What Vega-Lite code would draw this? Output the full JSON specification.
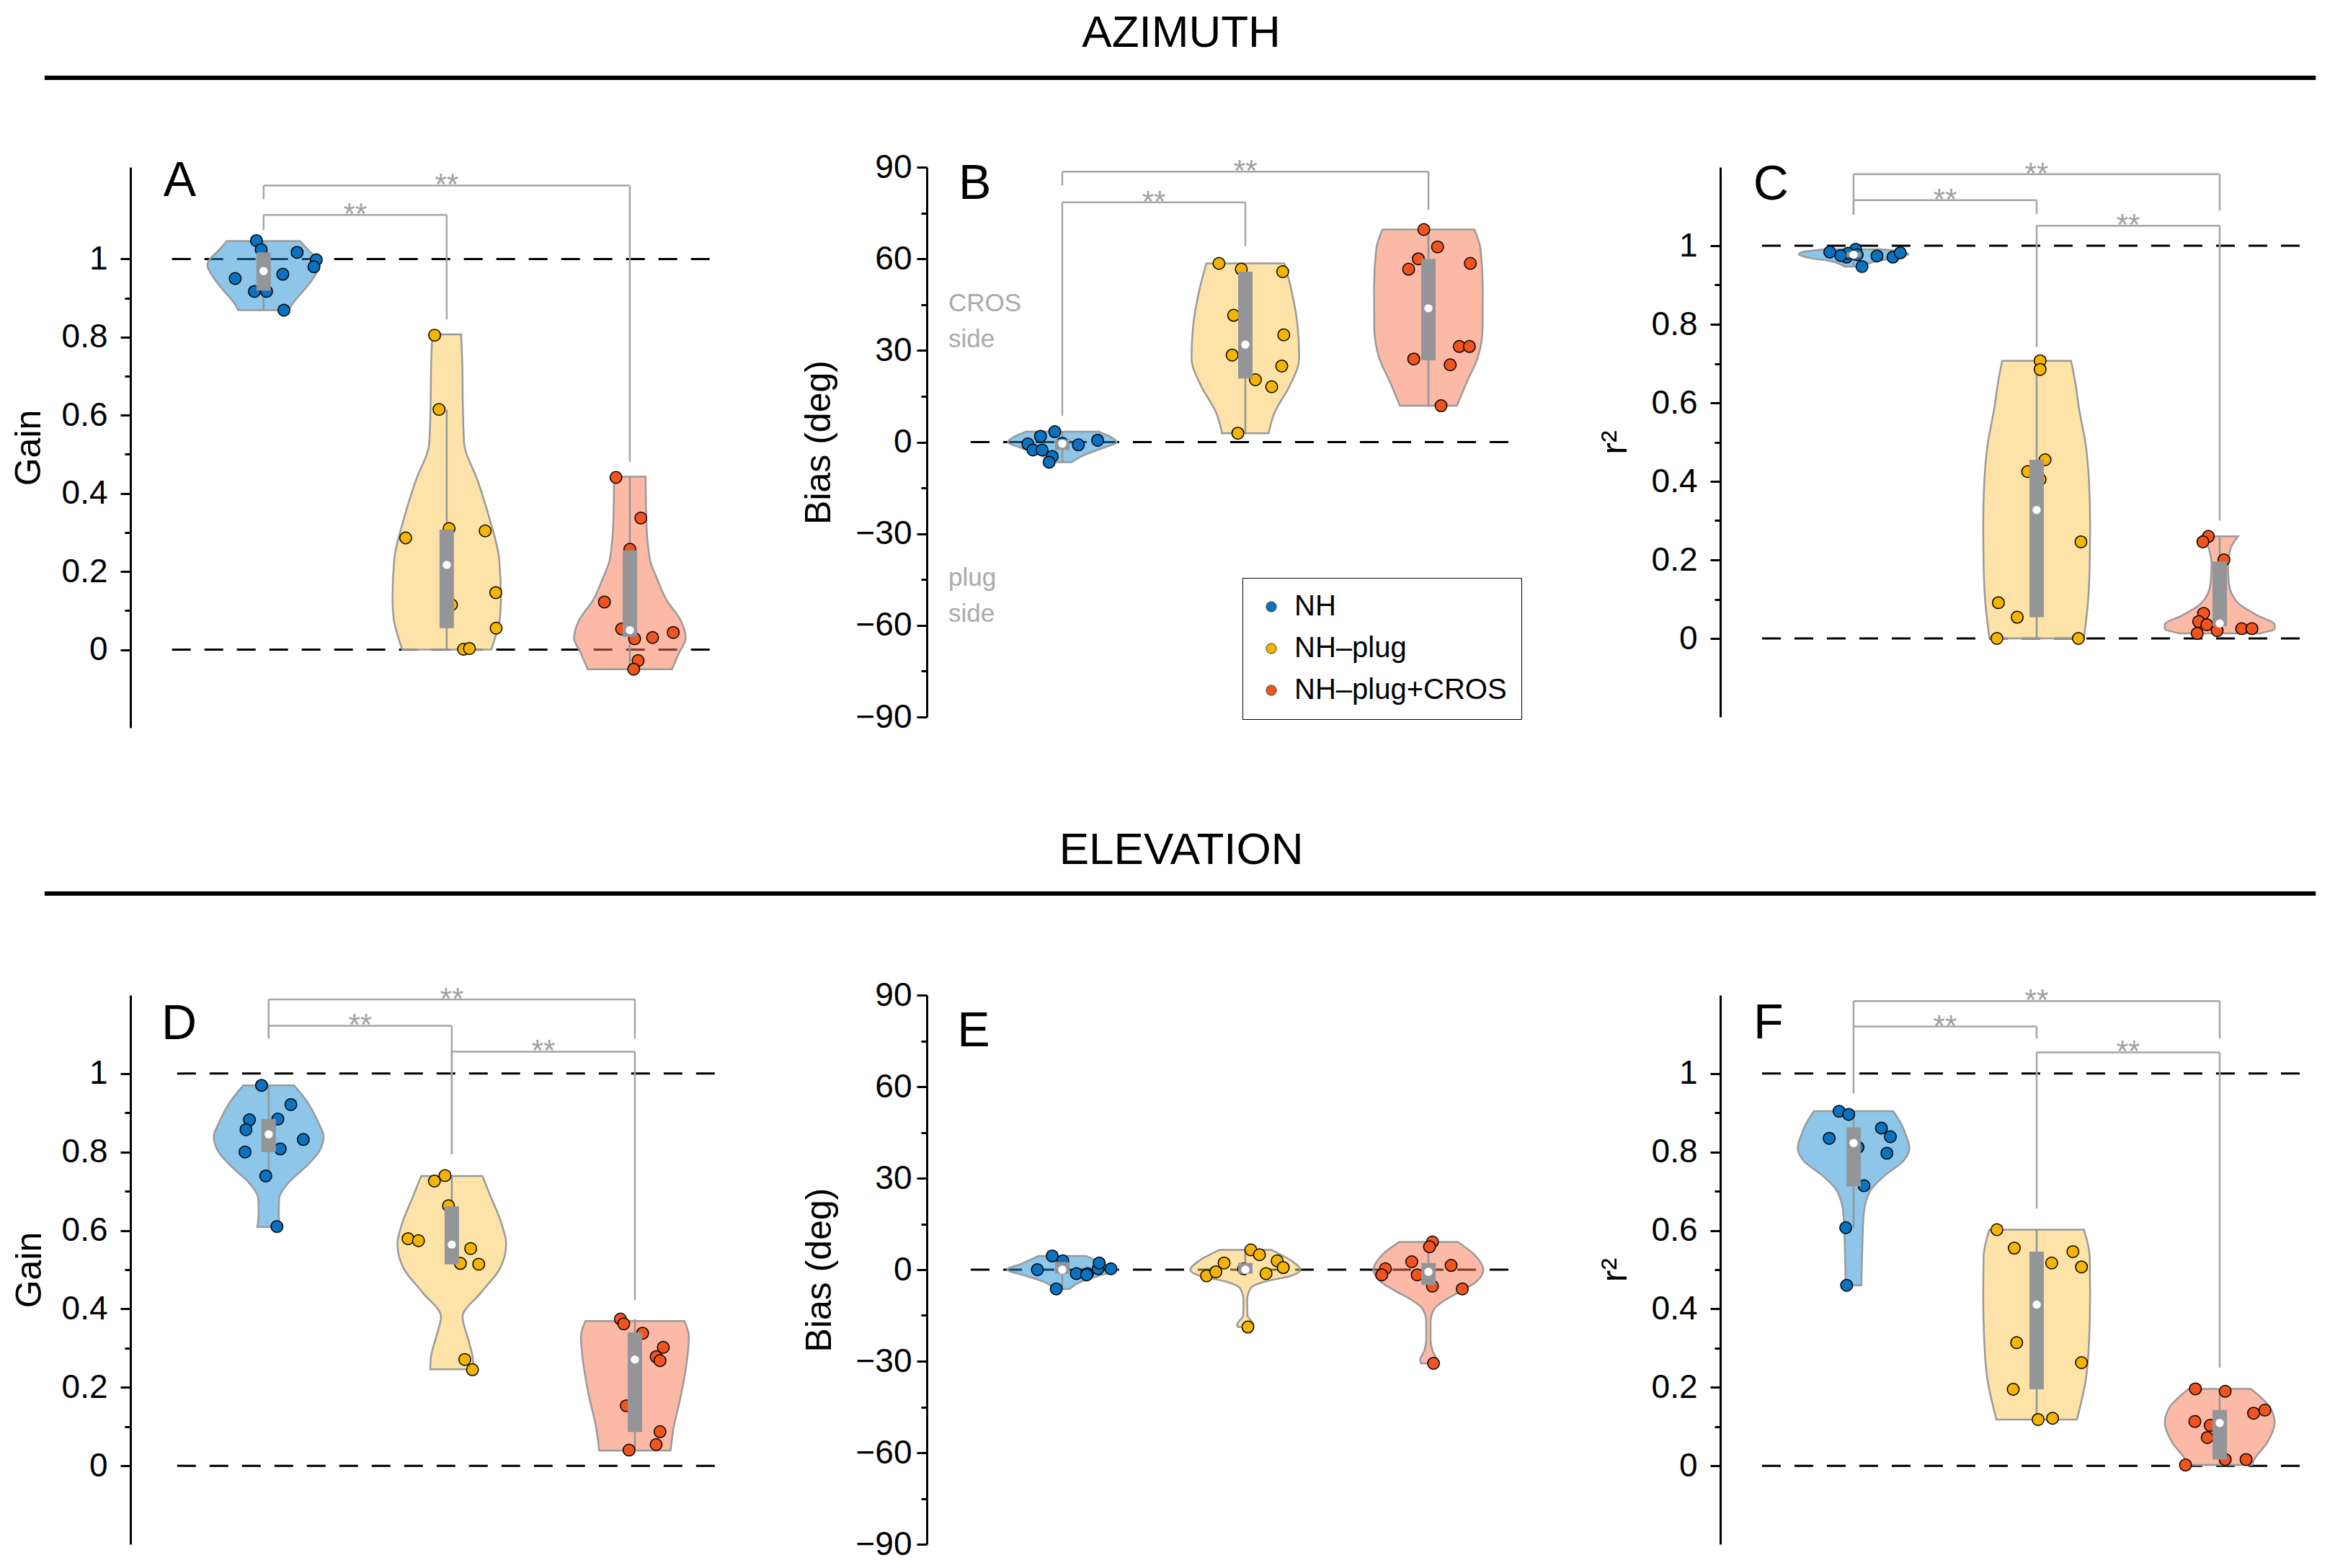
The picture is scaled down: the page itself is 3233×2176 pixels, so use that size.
{
"$schema": "https://vega.github.io/schema/vega-lite/v6.json",
"background": "white",
"padding": {"left": 15, "top": 14, "right": 20, "bottom": 8},
"datasets": {"d": [
{"p":"A","k":"ref","x":0.5,"x2":3.5,"y":0},{"p":"A","k":"ref","x":0.5,"x2":3.5,"y":1},
{"p":"A","k":"vi","g":"NH","y":0.869,"x":0.862,"x2":1.138},{"p":"A","k":"vi","g":"NH","y":0.89,"x":0.835,"x2":1.165},{"p":"A","k":"vi","g":"NH","y":0.92,"x":0.78,"x2":1.22},{"p":"A","k":"vi","g":"NH","y":0.95,"x":0.73,"x2":1.27},{"p":"A","k":"vi","g":"NH","y":0.985,"x":0.693,"x2":1.307},{"p":"A","k":"vi","g":"NH","y":0.995,"x":0.7,"x2":1.3},{"p":"A","k":"vi","g":"NH","y":1.02,"x":0.75,"x2":1.25},{"p":"A","k":"vi","g":"NH","y":1.046,"x":0.8,"x2":1.2},
{"p":"A","k":"vi","g":"NH–plug","y":0,"x":1.757,"x2":2.243},{"p":"A","k":"vi","g":"NH–plug","y":0.04,"x":1.73,"x2":2.27},{"p":"A","k":"vi","g":"NH–plug","y":0.08,"x":1.71,"x2":2.29},{"p":"A","k":"vi","g":"NH–plug","y":0.13,"x":1.704,"x2":2.296},{"p":"A","k":"vi","g":"NH–plug","y":0.23,"x":1.713,"x2":2.287},{"p":"A","k":"vi","g":"NH–plug","y":0.33,"x":1.763,"x2":2.237},{"p":"A","k":"vi","g":"NH–plug","y":0.43,"x":1.829,"x2":2.171},{"p":"A","k":"vi","g":"NH–plug","y":0.53,"x":1.905,"x2":2.095},{"p":"A","k":"vi","g":"NH–plug","y":0.63,"x":1.912,"x2":2.088},{"p":"A","k":"vi","g":"NH–plug","y":0.73,"x":1.915,"x2":2.085},{"p":"A","k":"vi","g":"NH–plug","y":0.807,"x":1.921,"x2":2.079},
{"p":"A","k":"vi","g":"NH–plug+CROS","y":-0.05,"x":2.77,"x2":3.23},{"p":"A","k":"vi","g":"NH–plug+CROS","y":-0.007,"x":2.73,"x2":3.27},{"p":"A","k":"vi","g":"NH–plug+CROS","y":0.03,"x":2.695,"x2":3.305},{"p":"A","k":"vi","g":"NH–plug+CROS","y":0.07,"x":2.717,"x2":3.283},{"p":"A","k":"vi","g":"NH–plug+CROS","y":0.13,"x":2.803,"x2":3.197},{"p":"A","k":"vi","g":"NH–plug+CROS","y":0.18,"x":2.85,"x2":3.15},{"p":"A","k":"vi","g":"NH–plug+CROS","y":0.23,"x":2.89,"x2":3.11},{"p":"A","k":"vi","g":"NH–plug+CROS","y":0.33,"x":2.91,"x2":3.09},{"p":"A","k":"vi","g":"NH–plug+CROS","y":0.443,"x":2.914,"x2":3.086},
{"p":"A","k":"pt","g":"NH","x":0.961,"y":1.047},{"p":"A","k":"pt","g":"NH","x":0.987,"y":1.024},{"p":"A","k":"pt","g":"NH","x":1.183,"y":1.017},{"p":"A","k":"pt","g":"NH","x":1.288,"y":0.998},{"p":"A","k":"pt","g":"NH","x":1.275,"y":0.98},{"p":"A","k":"pt","g":"NH","x":0.845,"y":0.95},{"p":"A","k":"pt","g":"NH","x":1.105,"y":0.961},{"p":"A","k":"pt","g":"NH","x":0.95,"y":0.917},{"p":"A","k":"pt","g":"NH","x":1.016,"y":0.917},{"p":"A","k":"pt","g":"NH","x":1.111,"y":0.869},
{"p":"A","k":"pt","g":"NH–plug","x":1.934,"y":0.805},{"p":"A","k":"pt","g":"NH–plug","x":1.958,"y":0.615},{"p":"A","k":"pt","g":"NH–plug","x":1.776,"y":0.286},{"p":"A","k":"pt","g":"NH–plug","x":2.013,"y":0.31},{"p":"A","k":"pt","g":"NH–plug","x":2.21,"y":0.304},{"p":"A","k":"pt","g":"NH–plug","x":2.268,"y":0.146},{"p":"A","k":"pt","g":"NH–plug","x":2.026,"y":0.115},{"p":"A","k":"pt","g":"NH–plug","x":2.27,"y":0.055},{"p":"A","k":"pt","g":"NH–plug","x":2.092,"y":0.001},{"p":"A","k":"pt","g":"NH–plug","x":2.124,"y":0.003},
{"p":"A","k":"pt","g":"NH–plug+CROS","x":2.924,"y":0.441},{"p":"A","k":"pt","g":"NH–plug+CROS","x":3.06,"y":0.337},{"p":"A","k":"pt","g":"NH–plug+CROS","x":3.0,"y":0.257},{"p":"A","k":"pt","g":"NH–plug+CROS","x":2.861,"y":0.122},{"p":"A","k":"pt","g":"NH–plug+CROS","x":2.955,"y":0.053},{"p":"A","k":"pt","g":"NH–plug+CROS","x":3.026,"y":0.028},{"p":"A","k":"pt","g":"NH–plug+CROS","x":3.124,"y":0.031},{"p":"A","k":"pt","g":"NH–plug+CROS","x":3.237,"y":0.044},{"p":"A","k":"pt","g":"NH–plug+CROS","x":3.045,"y":-0.028},{"p":"A","k":"pt","g":"NH–plug+CROS","x":3.021,"y":-0.05},
{"p":"A","k":"wh","x":1,"y":0.869,"y2":1.046},{"p":"A","k":"wh","x":2,"y":0,"y2":0.615},{"p":"A","k":"wh","x":3,"y":-0.05,"y2":0.441},
{"p":"A","k":"bx","x":1,"y":0.919,"y2":1.017},{"p":"A","k":"bx","x":2,"y":0.055,"y2":0.307},{"p":"A","k":"bx","x":3,"y":0.033,"y2":0.254},
{"p":"A","k":"md","x":1,"y":0.969},{"p":"A","k":"md","x":2,"y":0.217},{"p":"A","k":"md","x":3,"y":0.05},
{"p":"A","k":"bh","x":1,"x2":3,"y":1.188},{"p":"A","k":"bh","x":1,"x2":2,"y":1.113},
{"p":"A","k":"bv","x":1,"y":1.188,"y2":1.153},{"p":"A","k":"bv","x":3,"y":1.188,"y2":0.481},{"p":"A","k":"bv","x":1,"y":1.113,"y2":1.074},{"p":"A","k":"bv","x":2,"y":1.113,"y2":0.845},
{"p":"A","k":"st","x":2,"y":1.188,"t":"**"},{"p":"A","k":"st","x":1.5,"y":1.113,"t":"**"},
{"p":"A","k":"lt","x":0.542,"y":1.198,"t":"A"},

{"p":"B","k":"hd","x":1.65,"y":133.9,"t":"AZIMUTH"},{"p":"B","k":"hr","x":-4.559,"x2":7.847,"y":119.25},
{"p":"B","k":"ref","x":0.5,"x2":3.5,"y":0},
{"p":"B","k":"vi","g":"NH","y":-6.6,"x":0.95,"x2":1.05},{"p":"B","k":"vi","g":"NH","y":-4,"x":0.87,"x2":1.13},{"p":"B","k":"vi","g":"NH","y":-2,"x":0.78,"x2":1.22},{"p":"B","k":"vi","g":"NH","y":0,"x":0.703,"x2":1.297},{"p":"B","k":"vi","g":"NH","y":1.5,"x":0.73,"x2":1.27},{"p":"B","k":"vi","g":"NH","y":3.4,"x":0.8,"x2":1.2},
{"p":"B","k":"vi","g":"NH–plug","y":2.9,"x":1.873,"x2":2.127},{"p":"B","k":"vi","g":"NH–plug","y":9.6,"x":1.841,"x2":2.159},{"p":"B","k":"vi","g":"NH–plug","y":18.4,"x":1.758,"x2":2.242},{"p":"B","k":"vi","g":"NH–plug","y":27.4,"x":1.706,"x2":2.294},{"p":"B","k":"vi","g":"NH–plug","y":37.6,"x":1.714,"x2":2.286},{"p":"B","k":"vi","g":"NH–plug","y":50.4,"x":1.751,"x2":2.249},{"p":"B","k":"vi","g":"NH–plug","y":58.5,"x":1.787,"x2":2.213},
{"p":"B","k":"vi","g":"NH–plug+CROS","y":11.9,"x":2.844,"x2":3.156},{"p":"B","k":"vi","g":"NH–plug+CROS","y":19.7,"x":2.79,"x2":3.21},{"p":"B","k":"vi","g":"NH–plug+CROS","y":27.4,"x":2.732,"x2":3.268},{"p":"B","k":"vi","g":"NH–plug+CROS","y":37.6,"x":2.704,"x2":3.296},{"p":"B","k":"vi","g":"NH–plug+CROS","y":50.4,"x":2.703,"x2":3.297},{"p":"B","k":"vi","g":"NH–plug+CROS","y":63.2,"x":2.715,"x2":3.285},{"p":"B","k":"vi","g":"NH–plug+CROS","y":69.6,"x":2.749,"x2":3.251},
{"p":"B","k":"pt","g":"NH","x":0.812,"y":-0.6},{"p":"B","k":"pt","g":"NH","x":0.881,"y":1.9},{"p":"B","k":"pt","g":"NH","x":0.959,"y":3.4},{"p":"B","k":"pt","g":"NH","x":0.84,"y":-2.6},{"p":"B","k":"pt","g":"NH","x":0.89,"y":-2.6},{"p":"B","k":"pt","g":"NH","x":0.945,"y":-4.7},{"p":"B","k":"pt","g":"NH","x":0.928,"y":-6.6},{"p":"B","k":"pt","g":"NH","x":1.088,"y":-0.9},{"p":"B","k":"pt","g":"NH","x":1.193,"y":0.6},{"p":"B","k":"pt","g":"NH","x":1.0,"y":-0.4},
{"p":"B","k":"pt","g":"NH–plug","x":1.856,"y":58.5},{"p":"B","k":"pt","g":"NH–plug","x":1.978,"y":56.6},{"p":"B","k":"pt","g":"NH–plug","x":2.204,"y":55.8},{"p":"B","k":"pt","g":"NH–plug","x":1.936,"y":41.5},{"p":"B","k":"pt","g":"NH–plug","x":2.21,"y":35.1},{"p":"B","k":"pt","g":"NH–plug","x":1.928,"y":28.5},{"p":"B","k":"pt","g":"NH–plug","x":2.199,"y":24.9},{"p":"B","k":"pt","g":"NH–plug","x":2.055,"y":20.4},{"p":"B","k":"pt","g":"NH–plug","x":2.144,"y":18.1},{"p":"B","k":"pt","g":"NH–plug","x":1.959,"y":2.9},
{"p":"B","k":"pt","g":"NH–plug+CROS","x":2.975,"y":69.6},{"p":"B","k":"pt","g":"NH–plug+CROS","x":3.05,"y":63.9},{"p":"B","k":"pt","g":"NH–plug+CROS","x":2.945,"y":60},{"p":"B","k":"pt","g":"NH–plug+CROS","x":2.892,"y":56.6},{"p":"B","k":"pt","g":"NH–plug+CROS","x":3.229,"y":58.5},{"p":"B","k":"pt","g":"NH–plug+CROS","x":2.92,"y":27.2},{"p":"B","k":"pt","g":"NH–plug+CROS","x":3.169,"y":31.3},{"p":"B","k":"pt","g":"NH–plug+CROS","x":3.224,"y":31.3},{"p":"B","k":"pt","g":"NH–plug+CROS","x":3.119,"y":25.3},{"p":"B","k":"pt","g":"NH–plug+CROS","x":3.069,"y":11.9},
{"p":"B","k":"wh","x":1,"y":-6.6,"y2":3.4},{"p":"B","k":"wh","x":2,"y":2.9,"y2":58.5},{"p":"B","k":"wh","x":3,"y":11.9,"y2":69.6},
{"p":"B","k":"bx","x":1,"y":-2.6,"y2":0.9},{"p":"B","k":"bx","x":2,"y":20.8,"y2":55.8},{"p":"B","k":"bx","x":3,"y":26.8,"y2":60},
{"p":"B","k":"md","x":1,"y":-0.5},{"p":"B","k":"md","x":2,"y":31.9},{"p":"B","k":"md","x":3,"y":43.8},
{"p":"B","k":"bh","x":1,"x2":3,"y":88.5},{"p":"B","k":"bh","x":1,"x2":2,"y":78.5},
{"p":"B","k":"bv","x":1,"y":88.5,"y2":84},{"p":"B","k":"bv","x":3,"y":88.5,"y2":76},{"p":"B","k":"bv","x":1,"y":78.5,"y2":8.6},{"p":"B","k":"bv","x":2,"y":78.5,"y2":64.2},
{"p":"B","k":"st","x":2,"y":88.5,"t":"**"},{"p":"B","k":"st","x":1.5,"y":78.5,"t":"**"},
{"p":"B","k":"lt","x":0.522,"y":84.3,"t":"B"},
{"p":"B","k":"sd","x":0.378,"y":45.35,"t":"CROS\nside"},{"p":"B","k":"sd","x":0.378,"y":-44.4,"t":"plug\nside"},

{"p":"C","k":"ref","x":0.5,"x2":3.5,"y":0},{"p":"C","k":"ref","x":0.5,"x2":3.5,"y":1},
{"p":"C","k":"vi","g":"NH","y":0.947,"x":0.95,"x2":1.05},{"p":"C","k":"vi","g":"NH","y":0.96,"x":0.88,"x2":1.12},{"p":"C","k":"vi","g":"NH","y":0.97,"x":0.75,"x2":1.25},{"p":"C","k":"vi","g":"NH","y":0.978,"x":0.7,"x2":1.3},{"p":"C","k":"vi","g":"NH","y":0.985,"x":0.73,"x2":1.27},{"p":"C","k":"vi","g":"NH","y":0.991,"x":0.85,"x2":1.15},
{"p":"C","k":"vi","g":"NH–plug","y":0,"x":1.742,"x2":2.258},{"p":"C","k":"vi","g":"NH–plug","y":0.09,"x":1.72,"x2":2.28},{"p":"C","k":"vi","g":"NH–plug","y":0.19,"x":1.71,"x2":2.29},{"p":"C","k":"vi","g":"NH–plug","y":0.29,"x":1.708,"x2":2.292},{"p":"C","k":"vi","g":"NH–plug","y":0.39,"x":1.713,"x2":2.287},{"p":"C","k":"vi","g":"NH–plug","y":0.49,"x":1.731,"x2":2.269},{"p":"C","k":"vi","g":"NH–plug","y":0.59,"x":1.77,"x2":2.23},{"p":"C","k":"vi","g":"NH–plug","y":0.655,"x":1.79,"x2":2.21},{"p":"C","k":"vi","g":"NH–plug","y":0.707,"x":1.812,"x2":2.188},
{"p":"C","k":"vi","g":"NH–plug+CROS","y":0.013,"x":2.78,"x2":3.22},{"p":"C","k":"vi","g":"NH–plug+CROS","y":0.025,"x":2.7,"x2":3.3},{"p":"C","k":"vi","g":"NH–plug+CROS","y":0.035,"x":2.7,"x2":3.3},{"p":"C","k":"vi","g":"NH–plug+CROS","y":0.06,"x":2.8,"x2":3.2},{"p":"C","k":"vi","g":"NH–plug+CROS","y":0.09,"x":2.9,"x2":3.1},{"p":"C","k":"vi","g":"NH–plug+CROS","y":0.14,"x":2.95,"x2":3.05},{"p":"C","k":"vi","g":"NH–plug+CROS","y":0.19,"x":2.955,"x2":3.045},{"p":"C","k":"vi","g":"NH–plug+CROS","y":0.23,"x":2.94,"x2":3.06},{"p":"C","k":"vi","g":"NH–plug+CROS","y":0.26,"x":2.9,"x2":3.1},
{"p":"C","k":"pt","g":"NH","x":0.87,"y":0.984},{"p":"C","k":"pt","g":"NH","x":0.962,"y":0.971},{"p":"C","k":"pt","g":"NH","x":1.011,"y":0.991},{"p":"C","k":"pt","g":"NH","x":1.046,"y":0.947},{"p":"C","k":"pt","g":"NH","x":1.128,"y":0.974},{"p":"C","k":"pt","g":"NH","x":1.215,"y":0.971},{"p":"C","k":"pt","g":"NH","x":1.255,"y":0.982},{"p":"C","k":"pt","g":"NH","x":0.97,"y":0.981},{"p":"C","k":"pt","g":"NH","x":1.02,"y":0.977},{"p":"C","k":"pt","g":"NH","x":0.93,"y":0.975},
{"p":"C","k":"pt","g":"NH–plug","x":2.019,"y":0.707},{"p":"C","k":"pt","g":"NH–plug","x":2.019,"y":0.685},{"p":"C","k":"pt","g":"NH–plug","x":2.046,"y":0.455},{"p":"C","k":"pt","g":"NH–plug","x":1.951,"y":0.425},{"p":"C","k":"pt","g":"NH–plug","x":2.019,"y":0.405},{"p":"C","k":"pt","g":"NH–plug","x":2.242,"y":0.246},{"p":"C","k":"pt","g":"NH–plug","x":1.791,"y":0.091},{"p":"C","k":"pt","g":"NH–plug","x":1.894,"y":0.054},{"p":"C","k":"pt","g":"NH–plug","x":1.783,"y":0},{"p":"C","k":"pt","g":"NH–plug","x":2.228,"y":0},
{"p":"C","k":"pt","g":"NH–plug+CROS","x":2.938,"y":0.26},{"p":"C","k":"pt","g":"NH–plug+CROS","x":2.908,"y":0.246},{"p":"C","k":"pt","g":"NH–plug+CROS","x":3.023,"y":0.2},{"p":"C","k":"pt","g":"NH–plug+CROS","x":2.912,"y":0.064},{"p":"C","k":"pt","g":"NH–plug+CROS","x":2.885,"y":0.043},{"p":"C","k":"pt","g":"NH–plug+CROS","x":2.93,"y":0.035},{"p":"C","k":"pt","g":"NH–plug+CROS","x":2.877,"y":0.013},{"p":"C","k":"pt","g":"NH–plug+CROS","x":3.12,"y":0.025},{"p":"C","k":"pt","g":"NH–plug+CROS","x":3.176,"y":0.025},{"p":"C","k":"pt","g":"NH–plug+CROS","x":2.986,"y":0.02},
{"p":"C","k":"wh","x":1,"y":0.947,"y2":0.991},{"p":"C","k":"wh","x":2,"y":0,"y2":0.707},{"p":"C","k":"wh","x":3,"y":0.013,"y2":0.26},
{"p":"C","k":"bx","x":1,"y":0.971,"y2":0.984},{"p":"C","k":"bx","x":2,"y":0.054,"y2":0.455},{"p":"C","k":"bx","x":3,"y":0.031,"y2":0.196},
{"p":"C","k":"md","x":1,"y":0.977},{"p":"C","k":"md","x":2,"y":0.327},{"p":"C","k":"md","x":3,"y":0.038},
{"p":"C","k":"bh","x":1,"x2":3,"y":1.182},{"p":"C","k":"bh","x":1,"x2":2,"y":1.116},{"p":"C","k":"bh","x":2,"x2":3,"y":1.051},
{"p":"C","k":"bv","x":1,"y":1.182,"y2":1.079},{"p":"C","k":"bv","x":3,"y":1.182,"y2":1.089},{"p":"C","k":"bv","x":1,"y":1.116,"y2":1.079},{"p":"C","k":"bv","x":2,"y":1.116,"y2":1.081},{"p":"C","k":"bv","x":2,"y":1.051,"y2":0.742},{"p":"C","k":"bv","x":3,"y":1.051,"y2":0.3},
{"p":"C","k":"st","x":2,"y":1.182,"t":"**"},{"p":"C","k":"st","x":1.5,"y":1.116,"t":"**"},{"p":"C","k":"st","x":2.5,"y":1.051,"t":"**"},
{"p":"C","k":"lt","x":0.549,"y":1.154,"t":"C"},

{"p":"D","k":"ref","x":0.5,"x2":3.5,"y":0},{"p":"D","k":"ref","x":0.5,"x2":3.5,"y":1},
{"p":"D","k":"vi","g":"NH","y":0.609,"x":0.938,"x2":1.062},{"p":"D","k":"vi","g":"NH","y":0.64,"x":0.945,"x2":1.055},{"p":"D","k":"vi","g":"NH","y":0.68,"x":0.943,"x2":1.057},{"p":"D","k":"vi","g":"NH","y":0.72,"x":0.895,"x2":1.105},{"p":"D","k":"vi","g":"NH","y":0.76,"x":0.803,"x2":1.197},{"p":"D","k":"vi","g":"NH","y":0.8,"x":0.726,"x2":1.274},{"p":"D","k":"vi","g":"NH","y":0.84,"x":0.7,"x2":1.3},{"p":"D","k":"vi","g":"NH","y":0.87,"x":0.724,"x2":1.276},{"p":"D","k":"vi","g":"NH","y":0.935,"x":0.8,"x2":1.2},{"p":"D","k":"vi","g":"NH","y":0.97,"x":0.862,"x2":1.138},
{"p":"D","k":"vi","g":"NH–plug","y":0.246,"x":1.882,"x2":2.118},{"p":"D","k":"vi","g":"NH–plug","y":0.277,"x":1.886,"x2":2.114},{"p":"D","k":"vi","g":"NH–plug","y":0.328,"x":1.914,"x2":2.086},{"p":"D","k":"vi","g":"NH–plug","y":0.38,"x":1.941,"x2":2.059},{"p":"D","k":"vi","g":"NH–plug","y":0.441,"x":1.842,"x2":2.158},{"p":"D","k":"vi","g":"NH–plug","y":0.503,"x":1.737,"x2":2.263},{"p":"D","k":"vi","g":"NH–plug","y":0.565,"x":1.703,"x2":2.297},{"p":"D","k":"vi","g":"NH–plug","y":0.617,"x":1.728,"x2":2.272},{"p":"D","k":"vi","g":"NH–plug","y":0.689,"x":1.79,"x2":2.21},{"p":"D","k":"vi","g":"NH–plug","y":0.739,"x":1.833,"x2":2.167},
{"p":"D","k":"vi","g":"NH–plug+CROS","y":0.039,"x":2.805,"x2":3.195},{"p":"D","k":"vi","g":"NH–plug+CROS","y":0.093,"x":2.79,"x2":3.21},{"p":"D","k":"vi","g":"NH–plug+CROS","y":0.176,"x":2.75,"x2":3.25},{"p":"D","k":"vi","g":"NH–plug+CROS","y":0.279,"x":2.713,"x2":3.287},{"p":"D","k":"vi","g":"NH–plug+CROS","y":0.33,"x":2.705,"x2":3.295},{"p":"D","k":"vi","g":"NH–plug+CROS","y":0.369,"x":2.73,"x2":3.27},
{"p":"D","k":"pt","g":"NH","x":0.961,"y":0.97},{"p":"D","k":"pt","g":"NH","x":1.121,"y":0.921},{"p":"D","k":"pt","g":"NH","x":0.895,"y":0.882},{"p":"D","k":"pt","g":"NH","x":1.05,"y":0.884},{"p":"D","k":"pt","g":"NH","x":0.876,"y":0.857},{"p":"D","k":"pt","g":"NH","x":1.189,"y":0.832},{"p":"D","k":"pt","g":"NH","x":0.871,"y":0.8},{"p":"D","k":"pt","g":"NH","x":1.063,"y":0.808},{"p":"D","k":"pt","g":"NH","x":0.984,"y":0.739},{"p":"D","k":"pt","g":"NH","x":1.045,"y":0.61},
{"p":"D","k":"pt","g":"NH–plug","x":1.963,"y":0.74},{"p":"D","k":"pt","g":"NH–plug","x":1.905,"y":0.726},{"p":"D","k":"pt","g":"NH–plug","x":1.982,"y":0.663},{"p":"D","k":"pt","g":"NH–plug","x":1.761,"y":0.579},{"p":"D","k":"pt","g":"NH–plug","x":1.818,"y":0.574},{"p":"D","k":"pt","g":"NH–plug","x":2.103,"y":0.554},{"p":"D","k":"pt","g":"NH–plug","x":2.047,"y":0.516},{"p":"D","k":"pt","g":"NH–plug","x":2.147,"y":0.514},{"p":"D","k":"pt","g":"NH–plug","x":2.071,"y":0.271},{"p":"D","k":"pt","g":"NH–plug","x":2.113,"y":0.245},
{"p":"D","k":"pt","g":"NH–plug+CROS","x":2.921,"y":0.374},{"p":"D","k":"pt","g":"NH–plug+CROS","x":2.939,"y":0.362},{"p":"D","k":"pt","g":"NH–plug+CROS","x":3.042,"y":0.338},{"p":"D","k":"pt","g":"NH–plug+CROS","x":3.155,"y":0.302},{"p":"D","k":"pt","g":"NH–plug+CROS","x":3.116,"y":0.278},{"p":"D","k":"pt","g":"NH–plug+CROS","x":3.137,"y":0.268},{"p":"D","k":"pt","g":"NH–plug+CROS","x":2.953,"y":0.153},{"p":"D","k":"pt","g":"NH–plug+CROS","x":3.137,"y":0.087},{"p":"D","k":"pt","g":"NH–plug+CROS","x":3.116,"y":0.054},{"p":"D","k":"pt","g":"NH–plug+CROS","x":2.968,"y":0.04},
{"p":"D","k":"wh","x":1,"y":0.739,"y2":0.97},{"p":"D","k":"wh","x":2,"y":0.514,"y2":0.74},{"p":"D","k":"wh","x":3,"y":0.04,"y2":0.374},
{"p":"D","k":"bx","x":1,"y":0.8,"y2":0.884},{"p":"D","k":"bx","x":2,"y":0.514,"y2":0.661},{"p":"D","k":"bx","x":3,"y":0.086,"y2":0.34},
{"p":"D","k":"md","x":1,"y":0.845},{"p":"D","k":"md","x":2,"y":0.564},{"p":"D","k":"md","x":3,"y":0.271},
{"p":"D","k":"bh","x":1,"x2":3,"y":1.189},{"p":"D","k":"bh","x":1,"x2":2,"y":1.122},{"p":"D","k":"bh","x":2,"x2":3,"y":1.056},
{"p":"D","k":"bv","x":1,"y":1.189,"y2":1.089},{"p":"D","k":"bv","x":3,"y":1.189,"y2":1.089},{"p":"D","k":"bv","x":1,"y":1.122,"y2":1.089},{"p":"D","k":"bv","x":2,"y":1.122,"y2":0.794},{"p":"D","k":"bv","x":2,"y":1.056,"y2":0.794},{"p":"D","k":"bv","x":3,"y":1.056,"y2":0.422},
{"p":"D","k":"st","x":2,"y":1.189,"t":"**"},{"p":"D","k":"st","x":1.5,"y":1.122,"t":"**"},{"p":"D","k":"st","x":2.5,"y":1.056,"t":"**"},
{"p":"D","k":"lt","x":0.511,"y":1.125,"t":"D"},

{"p":"E","k":"hd","x":1.65,"y":137.48,"t":"ELEVATION"},{"p":"E","k":"hr","x":-4.559,"x2":7.847,"y":123.31},
{"p":"E","k":"ref","x":0.5,"x2":3.5,"y":0},
{"p":"E","k":"vi","g":"NH","y":-6.3,"x":0.96,"x2":1.04},{"p":"E","k":"vi","g":"NH","y":-4,"x":0.9,"x2":1.1},{"p":"E","k":"vi","g":"NH","y":-2,"x":0.8,"x2":1.2},{"p":"E","k":"vi","g":"NH","y":0,"x":0.7,"x2":1.3},{"p":"E","k":"vi","g":"NH","y":2,"x":0.78,"x2":1.22},{"p":"E","k":"vi","g":"NH","y":4.5,"x":0.87,"x2":1.13},
{"p":"E","k":"vi","g":"NH–plug","y":-18.8,"x":1.96,"x2":2.04},{"p":"E","k":"vi","g":"NH–plug","y":-18,"x":1.955,"x2":2.045},{"p":"E","k":"vi","g":"NH–plug","y":-15,"x":1.988,"x2":2.012},{"p":"E","k":"vi","g":"NH–plug","y":-10,"x":1.99,"x2":2.01},{"p":"E","k":"vi","g":"NH–plug","y":-6,"x":1.97,"x2":2.03},{"p":"E","k":"vi","g":"NH–plug","y":-4,"x":1.9,"x2":2.1},{"p":"E","k":"vi","g":"NH–plug","y":-2,"x":1.75,"x2":2.25},{"p":"E","k":"vi","g":"NH–plug","y":0,"x":1.7,"x2":2.3},{"p":"E","k":"vi","g":"NH–plug","y":3,"x":1.75,"x2":2.25},{"p":"E","k":"vi","g":"NH–plug","y":6.5,"x":1.86,"x2":2.14},
{"p":"E","k":"vi","g":"NH–plug+CROS","y":-30.7,"x":2.96,"x2":3.04},{"p":"E","k":"vi","g":"NH–plug+CROS","y":-29.5,"x":2.955,"x2":3.045},{"p":"E","k":"vi","g":"NH–plug+CROS","y":-27,"x":2.975,"x2":3.025},{"p":"E","k":"vi","g":"NH–plug+CROS","y":-23,"x":2.988,"x2":3.012},{"p":"E","k":"vi","g":"NH–plug+CROS","y":-17,"x":2.988,"x2":3.012},{"p":"E","k":"vi","g":"NH–plug+CROS","y":-13,"x":2.97,"x2":3.03},{"p":"E","k":"vi","g":"NH–plug+CROS","y":-10,"x":2.91,"x2":3.09},{"p":"E","k":"vi","g":"NH–plug+CROS","y":-7,"x":2.82,"x2":3.18},{"p":"E","k":"vi","g":"NH–plug+CROS","y":-4,"x":2.74,"x2":3.26},{"p":"E","k":"vi","g":"NH–plug+CROS","y":0,"x":2.7,"x2":3.3},{"p":"E","k":"vi","g":"NH–plug+CROS","y":5,"x":2.75,"x2":3.25},{"p":"E","k":"vi","g":"NH–plug+CROS","y":9.1,"x":2.84,"x2":3.16},
{"p":"E","k":"pt","g":"NH","x":0.864,"y":0},{"p":"E","k":"pt","g":"NH","x":0.945,"y":4.5},{"p":"E","k":"pt","g":"NH","x":1.003,"y":2.9},{"p":"E","k":"pt","g":"NH","x":0.967,"y":-6.3},{"p":"E","k":"pt","g":"NH","x":1.077,"y":-1.3},{"p":"E","k":"pt","g":"NH","x":1.138,"y":-1.3},{"p":"E","k":"pt","g":"NH","x":1.196,"y":0.3},{"p":"E","k":"pt","g":"NH","x":1.202,"y":2.2},{"p":"E","k":"pt","g":"NH","x":1.266,"y":0.3},{"p":"E","k":"pt","g":"NH","x":1.133,"y":-1.7},
{"p":"E","k":"pt","g":"NH–plug","x":1.788,"y":-2},{"p":"E","k":"pt","g":"NH–plug","x":1.839,"y":-0.7},{"p":"E","k":"pt","g":"NH–plug","x":1.884,"y":2.2},{"p":"E","k":"pt","g":"NH–plug","x":2.03,"y":6.5},{"p":"E","k":"pt","g":"NH–plug","x":2.077,"y":4.9},{"p":"E","k":"pt","g":"NH–plug","x":2.113,"y":-1.3},{"p":"E","k":"pt","g":"NH–plug","x":2.174,"y":2.9},{"p":"E","k":"pt","g":"NH–plug","x":2.207,"y":0.7},{"p":"E","k":"pt","g":"NH–plug","x":2.014,"y":-18.8},{"p":"E","k":"pt","g":"NH–plug","x":1.99,"y":0.3},
{"p":"E","k":"pt","g":"NH–plug+CROS","x":3.022,"y":9.1},{"p":"E","k":"pt","g":"NH–plug+CROS","x":3.006,"y":7.5},{"p":"E","k":"pt","g":"NH–plug+CROS","x":2.909,"y":2.6},{"p":"E","k":"pt","g":"NH–plug+CROS","x":3.124,"y":1.4},{"p":"E","k":"pt","g":"NH–plug+CROS","x":2.765,"y":0.3},{"p":"E","k":"pt","g":"NH–plug+CROS","x":2.745,"y":-1.7},{"p":"E","k":"pt","g":"NH–plug+CROS","x":2.939,"y":-1.7},{"p":"E","k":"pt","g":"NH–plug+CROS","x":3.022,"y":-5.4},{"p":"E","k":"pt","g":"NH–plug+CROS","x":3.185,"y":-6.3},{"p":"E","k":"pt","g":"NH–plug+CROS","x":3.028,"y":-30.7},
{"p":"E","k":"wh","x":1,"y":-6.3,"y2":4.5},{"p":"E","k":"wh","x":2,"y":-2,"y2":6.5},{"p":"E","k":"wh","x":3,"y":-6.3,"y2":9.1},
{"p":"E","k":"bx","x":1,"y":-1.3,"y2":2.5},{"p":"E","k":"bx","x":2,"y":-1.3,"y2":2.2},{"p":"E","k":"bx","x":3,"y":-5,"y2":2.2},
{"p":"E","k":"md","x":1,"y":0},{"p":"E","k":"md","x":2,"y":0},{"p":"E","k":"md","x":3,"y":-0.7},
{"p":"E","k":"lt","x":0.516,"y":78,"t":"E"},

{"p":"F","k":"ref","x":0.5,"x2":3.5,"y":0},{"p":"F","k":"ref","x":0.5,"x2":3.5,"y":1},
{"p":"F","k":"vi","g":"NH","y":0.46,"x":0.957,"x2":1.043},{"p":"F","k":"vi","g":"NH","y":0.56,"x":0.952,"x2":1.048},{"p":"F","k":"vi","g":"NH","y":0.64,"x":0.945,"x2":1.055},{"p":"F","k":"vi","g":"NH","y":0.7,"x":0.91,"x2":1.09},{"p":"F","k":"vi","g":"NH","y":0.74,"x":0.83,"x2":1.17},{"p":"F","k":"vi","g":"NH","y":0.776,"x":0.73,"x2":1.27},{"p":"F","k":"vi","g":"NH","y":0.81,"x":0.695,"x2":1.305},{"p":"F","k":"vi","g":"NH","y":0.838,"x":0.71,"x2":1.29},{"p":"F","k":"vi","g":"NH","y":0.872,"x":0.74,"x2":1.26},{"p":"F","k":"vi","g":"NH","y":0.904,"x":0.783,"x2":1.217},
{"p":"F","k":"vi","g":"NH–plug","y":0.118,"x":1.78,"x2":2.22},{"p":"F","k":"vi","g":"NH–plug","y":0.224,"x":1.73,"x2":2.27},{"p":"F","k":"vi","g":"NH–plug","y":0.327,"x":1.713,"x2":2.287},{"p":"F","k":"vi","g":"NH–plug","y":0.43,"x":1.708,"x2":2.292},{"p":"F","k":"vi","g":"NH–plug","y":0.532,"x":1.71,"x2":2.29},{"p":"F","k":"vi","g":"NH–plug","y":0.602,"x":1.742,"x2":2.258},
{"p":"F","k":"vi","g":"NH–plug+CROS","y":0.002,"x":2.823,"x2":3.177},{"p":"F","k":"vi","g":"NH–plug+CROS","y":0.008,"x":2.82,"x2":3.18},{"p":"F","k":"vi","g":"NH–plug+CROS","y":0.06,"x":2.74,"x2":3.26},{"p":"F","k":"vi","g":"NH–plug+CROS","y":0.111,"x":2.7,"x2":3.3},{"p":"F","k":"vi","g":"NH–plug+CROS","y":0.152,"x":2.73,"x2":3.27},{"p":"F","k":"vi","g":"NH–plug+CROS","y":0.196,"x":2.83,"x2":3.17},
{"p":"F","k":"pt","g":"NH","x":0.921,"y":0.904},{"p":"F","k":"pt","g":"NH","x":0.973,"y":0.896},{"p":"F","k":"pt","g":"NH","x":1.152,"y":0.861},{"p":"F","k":"pt","g":"NH","x":0.867,"y":0.835},{"p":"F","k":"pt","g":"NH","x":1.201,"y":0.839},{"p":"F","k":"pt","g":"NH","x":1.024,"y":0.812},{"p":"F","k":"pt","g":"NH","x":1.182,"y":0.797},{"p":"F","k":"pt","g":"NH","x":1.057,"y":0.714},{"p":"F","k":"pt","g":"NH","x":0.957,"y":0.607},{"p":"F","k":"pt","g":"NH","x":0.962,"y":0.46},
{"p":"F","k":"pt","g":"NH–plug","x":1.783,"y":0.602},{"p":"F","k":"pt","g":"NH–plug","x":1.878,"y":0.555},{"p":"F","k":"pt","g":"NH–plug","x":2.198,"y":0.546},{"p":"F","k":"pt","g":"NH–plug","x":2.082,"y":0.517},{"p":"F","k":"pt","g":"NH–plug","x":2.245,"y":0.507},{"p":"F","k":"pt","g":"NH–plug","x":1.891,"y":0.314},{"p":"F","k":"pt","g":"NH–plug","x":2.245,"y":0.263},{"p":"F","k":"pt","g":"NH–plug","x":1.872,"y":0.195},{"p":"F","k":"pt","g":"NH–plug","x":2.008,"y":0.118},{"p":"F","k":"pt","g":"NH–plug","x":2.087,"y":0.121},
{"p":"F","k":"pt","g":"NH–plug+CROS","x":2.867,"y":0.196},{"p":"F","k":"pt","g":"NH–plug+CROS","x":3.03,"y":0.19},{"p":"F","k":"pt","g":"NH–plug+CROS","x":2.864,"y":0.113},{"p":"F","k":"pt","g":"NH–plug+CROS","x":2.948,"y":0.103},{"p":"F","k":"pt","g":"NH–plug+CROS","x":2.932,"y":0.072},{"p":"F","k":"pt","g":"NH–plug+CROS","x":3.185,"y":0.134},{"p":"F","k":"pt","g":"NH–plug+CROS","x":3.247,"y":0.142},{"p":"F","k":"pt","g":"NH–plug+CROS","x":2.813,"y":0.002},{"p":"F","k":"pt","g":"NH–plug+CROS","x":3.03,"y":0.016},{"p":"F","k":"pt","g":"NH–plug+CROS","x":3.144,"y":0.016},
{"p":"F","k":"wh","x":1,"y":0.607,"y2":0.904},{"p":"F","k":"wh","x":2,"y":0.118,"y2":0.602},{"p":"F","k":"wh","x":3,"y":0.002,"y2":0.196},
{"p":"F","k":"bx","x":1,"y":0.712,"y2":0.863},{"p":"F","k":"bx","x":2,"y":0.195,"y2":0.546},{"p":"F","k":"bx","x":3,"y":0.016,"y2":0.142},
{"p":"F","k":"md","x":1,"y":0.823},{"p":"F","k":"md","x":2,"y":0.411},{"p":"F","k":"md","x":3,"y":0.109},
{"p":"F","k":"bh","x":1,"x2":3,"y":1.185},{"p":"F","k":"bh","x":1,"x2":2,"y":1.12},{"p":"F","k":"bh","x":2,"x2":3,"y":1.054},
{"p":"F","k":"bv","x":1,"y":1.185,"y2":1.12},{"p":"F","k":"bv","x":3,"y":1.185,"y2":1.089},{"p":"F","k":"bv","x":1,"y":1.12,"y2":0.949},{"p":"F","k":"bv","x":2,"y":1.12,"y2":1.089},{"p":"F","k":"bv","x":2,"y":1.054,"y2":0.656},{"p":"F","k":"bv","x":3,"y":1.054,"y2":0.25},
{"p":"F","k":"st","x":2,"y":1.185,"t":"**"},{"p":"F","k":"st","x":1.5,"y":1.12,"t":"**"},{"p":"F","k":"st","x":2.5,"y":1.054,"t":"**"},
{"p":"F","k":"lt","x":0.535,"y":1.126,"t":"F"}
]},
"data": {"name": "d"},
"columns": 3,
"bounds": "flush",
"spacing": {"row": 371, "column": 278},
"resolve": {"scale": {"color": "independent", "fill": "independent"}, "legend": {"color": "independent", "fill": "independent"}},
"concat": [
 {"width": 820, "height": 778, "transform": [{"filter": "datum.p=='A'"}],
  "encoding": {
   "x": {"field": "x", "type": "quantitative", "scale": {"domain": [0.273, 3.5], "nice": false, "zero": false}, "axis": null},
   "y": {"field": "y", "type": "quantitative", "scale": {"domain": [-0.2, 1.235], "nice": false, "zero": false},
    "axis": {"title": "Gain", "titleX": -141, "format": ".1~f", "values": [0,0.1,0.2,0.3,0.4,0.5,0.6,0.7,0.8,0.9,1], "labelExpr": "abs(datum.value*5-round(datum.value*5))<0.01 ? datum.label : ''", "tickSize": {"condition": {"test": "abs(datum.value*5-round(datum.value*5))>0.01", "value": 8}, "value": 14}, "labelPadding": 18}}},
  "layer": [
   {"transform": [{"filter": "datum.k=='ref'"}], "mark": {"type": "rule", "stroke": "black", "strokeWidth": 3, "strokeDash": [26, 19]}, "encoding": {"x2": {"field": "x2"}}},
   {"transform": [{"filter": "datum.k=='vi'"}], "mark": {"type": "area", "orient": "horizontal", "interpolate": "monotone", "fillOpacity": 0.5, "stroke": "#9a9a9a", "strokeWidth": 2.5, "strokeOpacity": 1}, "encoding": {"x2": {"field": "x2"}, "fill": {"field": "g", "type": "nominal", "scale": {"range": ["#1B8DD1", "#FBC751", "#F7734D"]}, "legend": null}, "detail": {"field": "g", "type": "nominal"}}},
   {"transform": [{"filter": "datum.k=='wh'"}], "mark": {"type": "rule", "stroke": "#939598", "strokeWidth": 2.5}, "encoding": {"y2": {"field": "y2"}}},
   {"transform": [{"filter": "datum.k=='pt'"}], "mark": {"type": "point", "filled": true, "size": 270, "stroke": "black", "strokeWidth": 1.5, "opacity": 1}, "encoding": {"color": {"field": "g", "type": "nominal", "scale": {"domain": ["NH", "NH–plug", "NH–plug+CROS"], "range": ["#0A72BE", "#F6B300", "#F1541F"]}, "legend": null}}},
   {"transform": [{"filter": "datum.k=='bx'"}], "mark": {"type": "rule", "stroke": "#939598", "strokeWidth": 20, "strokeCap": "butt"}, "encoding": {"y2": {"field": "y2"}}},
   {"transform": [{"filter": "datum.k=='md'"}], "mark": {"type": "point", "filled": true, "size": 130, "fill": "white", "strokeWidth": 0, "opacity": 1}, "encoding": {}},
   {"transform": [{"filter": "datum.k=='bh'"}], "mark": {"type": "rule", "stroke": "#a6a6a6", "strokeWidth": 2.5}, "encoding": {"x2": {"field": "x2"}}},
   {"transform": [{"filter": "datum.k=='bv'"}], "mark": {"type": "rule", "stroke": "#a6a6a6", "strokeWidth": 2.5}, "encoding": {"y2": {"field": "y2"}}},
   {"transform": [{"filter": "datum.k=='st'"}], "mark": {"type": "text", "fontSize": 42, "font": "Liberation Sans", "color": "#a0a0a0", "baseline": "alphabetic", "dy": 13}, "encoding": {"text": {"field": "t", "type": "nominal"}}},
   {"transform": [{"filter": "datum.k=='lt'"}], "mark": {"type": "text", "fontSize": 68, "font": "Liberation Sans", "color": "black", "baseline": "middle"}, "encoding": {"text": {"field": "t", "type": "nominal"}}}
  ]},
 {"width": 823, "height": 763, "transform": [{"filter": "datum.p=='B'"}],
  "encoding": {
   "x": {"field": "x", "type": "quantitative", "scale": {"domain": [0.26, 3.5], "nice": false, "zero": false}, "axis": null},
   "y": {"field": "y", "type": "quantitative", "scale": {"domain": [-90, 90], "nice": false, "zero": false},
    "axis": {"title": "Bias (deg)", "titleX": -150, "format": "d", "values": [-90,-75,-60,-45,-30,-15,0,15,30,45,60,75,90], "labelExpr": "datum.value%30==0 ? datum.label : ''", "tickSize": {"condition": {"test": "datum.value%30!=0", "value": 8}, "value": 14}, "labelPadding": 7}}},
  "layer": [
   {"transform": [{"filter": "datum.k=='hr'"}], "mark": {"type": "rule", "stroke": "black", "strokeWidth": 6}, "encoding": {"x2": {"field": "x2"}}},
   {"transform": [{"filter": "datum.k=='hd'"}], "mark": {"type": "text", "fontSize": 62, "font": "Liberation Sans", "color": "black", "baseline": "middle"}, "encoding": {"text": {"field": "t", "type": "nominal"}}},
   {"transform": [{"filter": "datum.k=='ref'"}], "mark": {"type": "rule", "stroke": "black", "strokeWidth": 3, "strokeDash": [26, 19]}, "encoding": {"x2": {"field": "x2"}}},
   {"transform": [{"filter": "datum.k=='vi'"}], "mark": {"type": "area", "orient": "horizontal", "interpolate": "monotone", "fillOpacity": 0.5, "stroke": "#9a9a9a", "strokeWidth": 2.5, "strokeOpacity": 1}, "encoding": {"x2": {"field": "x2"}, "fill": {"field": "g", "type": "nominal", "scale": {"range": ["#1B8DD1", "#FBC751", "#F7734D"]}, "legend": null}, "detail": {"field": "g", "type": "nominal"}}},
   {"transform": [{"filter": "datum.k=='wh'"}], "mark": {"type": "rule", "stroke": "#939598", "strokeWidth": 2.5}, "encoding": {"y2": {"field": "y2"}}},
   {"transform": [{"filter": "datum.k=='pt'"}], "mark": {"type": "point", "filled": true, "size": 270, "stroke": "black", "strokeWidth": 1.5, "opacity": 1}, "encoding": {"color": {"field": "g", "type": "nominal", "scale": {"domain": ["NH", "NH–plug", "NH–plug+CROS"], "range": ["#0A72BE", "#F6B300", "#F1541F"]},
     "legend": {"orient": "none", "legendX": 438, "legendY": 570, "title": null, "labelFont": "Liberation Sans", "labelFontSize": 40, "labelLimit": 600, "labelColor": "black", "symbolType": "circle", "symbolSize": 200, "symbolStrokeColor": "#333333", "symbolStrokeWidth": 1, "symbolOpacity": 1, "strokeColor": "black", "fillColor": "white", "padding": 20, "rowPadding": 18, "labelOffset": 12, "cornerRadius": 0}}}},
   {"transform": [{"filter": "datum.k=='bx'"}], "mark": {"type": "rule", "stroke": "#939598", "strokeWidth": 20, "strokeCap": "butt"}, "encoding": {"y2": {"field": "y2"}}},
   {"transform": [{"filter": "datum.k=='md'"}], "mark": {"type": "point", "filled": true, "size": 130, "fill": "white", "strokeWidth": 0, "opacity": 1}, "encoding": {}},
   {"transform": [{"filter": "datum.k=='bh'"}], "mark": {"type": "rule", "stroke": "#a6a6a6", "strokeWidth": 2.5}, "encoding": {"x2": {"field": "x2"}}},
   {"transform": [{"filter": "datum.k=='bv'"}], "mark": {"type": "rule", "stroke": "#a6a6a6", "strokeWidth": 2.5}, "encoding": {"y2": {"field": "y2"}}},
   {"transform": [{"filter": "datum.k=='st'"}], "mark": {"type": "text", "fontSize": 42, "font": "Liberation Sans", "color": "#a0a0a0", "baseline": "alphabetic", "dy": 13}, "encoding": {"text": {"field": "t", "type": "nominal"}}},
   {"transform": [{"filter": "datum.k=='lt'"}], "mark": {"type": "text", "fontSize": 68, "font": "Liberation Sans", "color": "black", "baseline": "middle"}, "encoding": {"text": {"field": "t", "type": "nominal"}}},
   {"transform": [{"filter": "datum.k=='sd'"}], "mark": {"type": "text", "fontSize": 35, "font": "Liberation Sans", "color": "#aaaaaa", "align": "left", "baseline": "middle", "lineBreak": "\n", "lineHeight": 50}, "encoding": {"text": {"field": "t", "type": "nominal"}}}
  ]},
 {"width": 820, "height": 763, "transform": [{"filter": "datum.p=='C'"}],
  "encoding": {
   "x": {"field": "x", "type": "quantitative", "scale": {"domain": [0.272, 3.5], "nice": false, "zero": false}, "axis": null},
   "y": {"field": "y", "type": "quantitative", "scale": {"domain": [-0.2, 1.2], "nice": false, "zero": false},
    "axis": {"title": "r²", "titleX": -146, "format": ".1~f", "values": [0,0.1,0.2,0.3,0.4,0.5,0.6,0.7,0.8,0.9,1], "labelExpr": "abs(datum.value*5-round(datum.value*5))<0.01 ? datum.label : ''", "tickSize": {"condition": {"test": "abs(datum.value*5-round(datum.value*5))>0.01", "value": 8}, "value": 14}, "labelPadding": 18}}},
  "layer": [
   {"transform": [{"filter": "datum.k=='ref'"}], "mark": {"type": "rule", "stroke": "black", "strokeWidth": 3, "strokeDash": [26, 19]}, "encoding": {"x2": {"field": "x2"}}},
   {"transform": [{"filter": "datum.k=='vi'"}], "mark": {"type": "area", "orient": "horizontal", "interpolate": "monotone", "fillOpacity": 0.5, "stroke": "#9a9a9a", "strokeWidth": 2.5, "strokeOpacity": 1}, "encoding": {"x2": {"field": "x2"}, "fill": {"field": "g", "type": "nominal", "scale": {"range": ["#1B8DD1", "#FBC751", "#F7734D"]}, "legend": null}, "detail": {"field": "g", "type": "nominal"}}},
   {"transform": [{"filter": "datum.k=='wh'"}], "mark": {"type": "rule", "stroke": "#939598", "strokeWidth": 2.5}, "encoding": {"y2": {"field": "y2"}}},
   {"transform": [{"filter": "datum.k=='pt'"}], "mark": {"type": "point", "filled": true, "size": 270, "stroke": "black", "strokeWidth": 1.5, "opacity": 1}, "encoding": {"color": {"field": "g", "type": "nominal", "scale": {"domain": ["NH", "NH–plug", "NH–plug+CROS"], "range": ["#0A72BE", "#F6B300", "#F1541F"]}, "legend": null}}},
   {"transform": [{"filter": "datum.k=='bx'"}], "mark": {"type": "rule", "stroke": "#939598", "strokeWidth": 20, "strokeCap": "butt"}, "encoding": {"y2": {"field": "y2"}}},
   {"transform": [{"filter": "datum.k=='md'"}], "mark": {"type": "point", "filled": true, "size": 130, "fill": "white", "strokeWidth": 0, "opacity": 1}, "encoding": {}},
   {"transform": [{"filter": "datum.k=='bh'"}], "mark": {"type": "rule", "stroke": "#a6a6a6", "strokeWidth": 2.5}, "encoding": {"x2": {"field": "x2"}}},
   {"transform": [{"filter": "datum.k=='bv'"}], "mark": {"type": "rule", "stroke": "#a6a6a6", "strokeWidth": 2.5}, "encoding": {"y2": {"field": "y2"}}},
   {"transform": [{"filter": "datum.k=='st'"}], "mark": {"type": "text", "fontSize": 42, "font": "Liberation Sans", "color": "#a0a0a0", "baseline": "alphabetic", "dy": 13}, "encoding": {"text": {"field": "t", "type": "nominal"}}},
   {"transform": [{"filter": "datum.k=='lt'"}], "mark": {"type": "text", "fontSize": 68, "font": "Liberation Sans", "color": "black", "baseline": "middle"}, "encoding": {"text": {"field": "t", "type": "nominal"}}}
  ]},
 {"width": 827, "height": 762, "transform": [{"filter": "datum.p=='D'"}],
  "encoding": {
   "x": {"field": "x", "type": "quantitative", "scale": {"domain": [0.245, 3.5], "nice": false, "zero": false}, "axis": null},
   "y": {"field": "y", "type": "quantitative", "scale": {"domain": [-0.2, 1.2], "nice": false, "zero": false},
    "axis": {"title": "Gain", "titleX": -140, "format": ".1~f", "values": [0,0.1,0.2,0.3,0.4,0.5,0.6,0.7,0.8,0.9,1], "labelExpr": "abs(datum.value*5-round(datum.value*5))<0.01 ? datum.label : ''", "tickSize": {"condition": {"test": "abs(datum.value*5-round(datum.value*5))>0.01", "value": 8}, "value": 14}, "labelPadding": 18}}},
  "layer": [
   {"transform": [{"filter": "datum.k=='ref'"}], "mark": {"type": "rule", "stroke": "black", "strokeWidth": 3, "strokeDash": [26, 19]}, "encoding": {"x2": {"field": "x2"}}},
   {"transform": [{"filter": "datum.k=='vi'"}], "mark": {"type": "area", "orient": "horizontal", "interpolate": "monotone", "fillOpacity": 0.5, "stroke": "#9a9a9a", "strokeWidth": 2.5, "strokeOpacity": 1}, "encoding": {"x2": {"field": "x2"}, "fill": {"field": "g", "type": "nominal", "scale": {"range": ["#1B8DD1", "#FBC751", "#F7734D"]}, "legend": null}, "detail": {"field": "g", "type": "nominal"}}},
   {"transform": [{"filter": "datum.k=='wh'"}], "mark": {"type": "rule", "stroke": "#939598", "strokeWidth": 2.5}, "encoding": {"y2": {"field": "y2"}}},
   {"transform": [{"filter": "datum.k=='pt'"}], "mark": {"type": "point", "filled": true, "size": 270, "stroke": "black", "strokeWidth": 1.5, "opacity": 1}, "encoding": {"color": {"field": "g", "type": "nominal", "scale": {"domain": ["NH", "NH–plug", "NH–plug+CROS"], "range": ["#0A72BE", "#F6B300", "#F1541F"]}, "legend": null}}},
   {"transform": [{"filter": "datum.k=='bx'"}], "mark": {"type": "rule", "stroke": "#939598", "strokeWidth": 20, "strokeCap": "butt"}, "encoding": {"y2": {"field": "y2"}}},
   {"transform": [{"filter": "datum.k=='md'"}], "mark": {"type": "point", "filled": true, "size": 130, "fill": "white", "strokeWidth": 0, "opacity": 1}, "encoding": {}},
   {"transform": [{"filter": "datum.k=='bh'"}], "mark": {"type": "rule", "stroke": "#a6a6a6", "strokeWidth": 2.5}, "encoding": {"x2": {"field": "x2"}}},
   {"transform": [{"filter": "datum.k=='bv'"}], "mark": {"type": "rule", "stroke": "#a6a6a6", "strokeWidth": 2.5}, "encoding": {"y2": {"field": "y2"}}},
   {"transform": [{"filter": "datum.k=='st'"}], "mark": {"type": "text", "fontSize": 42, "font": "Liberation Sans", "color": "#a0a0a0", "baseline": "alphabetic", "dy": 13}, "encoding": {"text": {"field": "t", "type": "nominal"}}},
   {"transform": [{"filter": "datum.k=='lt'"}], "mark": {"type": "text", "fontSize": 68, "font": "Liberation Sans", "color": "black", "baseline": "middle"}, "encoding": {"text": {"field": "t", "type": "nominal"}}}
  ]},
 {"width": 823, "height": 762, "transform": [{"filter": "datum.p=='E'"}],
  "encoding": {
   "x": {"field": "x", "type": "quantitative", "scale": {"domain": [0.26, 3.5], "nice": false, "zero": false}, "axis": null},
   "y": {"field": "y", "type": "quantitative", "scale": {"domain": [-90, 90], "nice": false, "zero": false},
    "axis": {"title": "Bias (deg)", "titleX": -149, "format": "d", "values": [-90,-75,-60,-45,-30,-15,0,15,30,45,60,75,90], "labelExpr": "datum.value%30==0 ? datum.label : ''", "tickSize": {"condition": {"test": "datum.value%30!=0", "value": 8}, "value": 14}, "labelPadding": 7}}},
  "layer": [
   {"transform": [{"filter": "datum.k=='hr'"}], "mark": {"type": "rule", "stroke": "black", "strokeWidth": 6}, "encoding": {"x2": {"field": "x2"}}},
   {"transform": [{"filter": "datum.k=='hd'"}], "mark": {"type": "text", "fontSize": 62, "font": "Liberation Sans", "color": "black", "baseline": "middle"}, "encoding": {"text": {"field": "t", "type": "nominal"}}},
   {"transform": [{"filter": "datum.k=='ref'"}], "mark": {"type": "rule", "stroke": "black", "strokeWidth": 3, "strokeDash": [26, 19]}, "encoding": {"x2": {"field": "x2"}}},
   {"transform": [{"filter": "datum.k=='vi'"}], "mark": {"type": "area", "orient": "horizontal", "interpolate": "monotone", "fillOpacity": 0.5, "stroke": "#9a9a9a", "strokeWidth": 2.5, "strokeOpacity": 1}, "encoding": {"x2": {"field": "x2"}, "fill": {"field": "g", "type": "nominal", "scale": {"range": ["#1B8DD1", "#FBC751", "#F7734D"]}, "legend": null}, "detail": {"field": "g", "type": "nominal"}}},
   {"transform": [{"filter": "datum.k=='wh'"}], "mark": {"type": "rule", "stroke": "#939598", "strokeWidth": 2.5}, "encoding": {"y2": {"field": "y2"}}},
   {"transform": [{"filter": "datum.k=='pt'"}], "mark": {"type": "point", "filled": true, "size": 270, "stroke": "black", "strokeWidth": 1.5, "opacity": 1}, "encoding": {"color": {"field": "g", "type": "nominal", "scale": {"domain": ["NH", "NH–plug", "NH–plug+CROS"], "range": ["#0A72BE", "#F6B300", "#F1541F"]}, "legend": null}}},
   {"transform": [{"filter": "datum.k=='bx'"}], "mark": {"type": "rule", "stroke": "#939598", "strokeWidth": 20, "strokeCap": "butt"}, "encoding": {"y2": {"field": "y2"}}},
   {"transform": [{"filter": "datum.k=='md'"}], "mark": {"type": "point", "filled": true, "size": 130, "fill": "white", "strokeWidth": 0, "opacity": 1}, "encoding": {}},
   {"transform": [{"filter": "datum.k=='lt'"}], "mark": {"type": "text", "fontSize": 68, "font": "Liberation Sans", "color": "black", "baseline": "middle"}, "encoding": {"text": {"field": "t", "type": "nominal"}}}
  ]},
 {"width": 820, "height": 762, "transform": [{"filter": "datum.p=='F'"}],
  "encoding": {
   "x": {"field": "x", "type": "quantitative", "scale": {"domain": [0.272, 3.5], "nice": false, "zero": false}, "axis": null},
   "y": {"field": "y", "type": "quantitative", "scale": {"domain": [-0.2, 1.2], "nice": false, "zero": false},
    "axis": {"title": "r²", "titleX": -146, "format": ".1~f", "values": [0,0.1,0.2,0.3,0.4,0.5,0.6,0.7,0.8,0.9,1], "labelExpr": "abs(datum.value*5-round(datum.value*5))<0.01 ? datum.label : ''", "tickSize": {"condition": {"test": "abs(datum.value*5-round(datum.value*5))>0.01", "value": 8}, "value": 14}, "labelPadding": 18}}},
  "layer": [
   {"transform": [{"filter": "datum.k=='ref'"}], "mark": {"type": "rule", "stroke": "black", "strokeWidth": 3, "strokeDash": [26, 19]}, "encoding": {"x2": {"field": "x2"}}},
   {"transform": [{"filter": "datum.k=='vi'"}], "mark": {"type": "area", "orient": "horizontal", "interpolate": "monotone", "fillOpacity": 0.5, "stroke": "#9a9a9a", "strokeWidth": 2.5, "strokeOpacity": 1}, "encoding": {"x2": {"field": "x2"}, "fill": {"field": "g", "type": "nominal", "scale": {"range": ["#1B8DD1", "#FBC751", "#F7734D"]}, "legend": null}, "detail": {"field": "g", "type": "nominal"}}},
   {"transform": [{"filter": "datum.k=='wh'"}], "mark": {"type": "rule", "stroke": "#939598", "strokeWidth": 2.5}, "encoding": {"y2": {"field": "y2"}}},
   {"transform": [{"filter": "datum.k=='pt'"}], "mark": {"type": "point", "filled": true, "size": 270, "stroke": "black", "strokeWidth": 1.5, "opacity": 1}, "encoding": {"color": {"field": "g", "type": "nominal", "scale": {"domain": ["NH", "NH–plug", "NH–plug+CROS"], "range": ["#0A72BE", "#F6B300", "#F1541F"]}, "legend": null}}},
   {"transform": [{"filter": "datum.k=='bx'"}], "mark": {"type": "rule", "stroke": "#939598", "strokeWidth": 20, "strokeCap": "butt"}, "encoding": {"y2": {"field": "y2"}}},
   {"transform": [{"filter": "datum.k=='md'"}], "mark": {"type": "point", "filled": true, "size": 130, "fill": "white", "strokeWidth": 0, "opacity": 1}, "encoding": {}},
   {"transform": [{"filter": "datum.k=='bh'"}], "mark": {"type": "rule", "stroke": "#a6a6a6", "strokeWidth": 2.5}, "encoding": {"x2": {"field": "x2"}}},
   {"transform": [{"filter": "datum.k=='bv'"}], "mark": {"type": "rule", "stroke": "#a6a6a6", "strokeWidth": 2.5}, "encoding": {"y2": {"field": "y2"}}},
   {"transform": [{"filter": "datum.k=='st'"}], "mark": {"type": "text", "fontSize": 42, "font": "Liberation Sans", "color": "#a0a0a0", "baseline": "alphabetic", "dy": 13}, "encoding": {"text": {"field": "t", "type": "nominal"}}},
   {"transform": [{"filter": "datum.k=='lt'"}], "mark": {"type": "text", "fontSize": 68, "font": "Liberation Sans", "color": "black", "baseline": "middle"}, "encoding": {"text": {"field": "t", "type": "nominal"}}}
  ]}
],
"config": {
 "view": {"stroke": null},
 "axis": {"domainColor": "black", "domainWidth": 3, "tickColor": "black", "tickWidth": 3, "labelColor": "black", "labelFont": "Liberation Sans", "labelFontSize": 46, "titleFont": "Liberation Sans", "titleFontSize": 50, "titleFontWeight": "normal", "titleColor": "black", "grid": false, "labelOverlap": false, "titleBaseline": "middle"}
}
}
